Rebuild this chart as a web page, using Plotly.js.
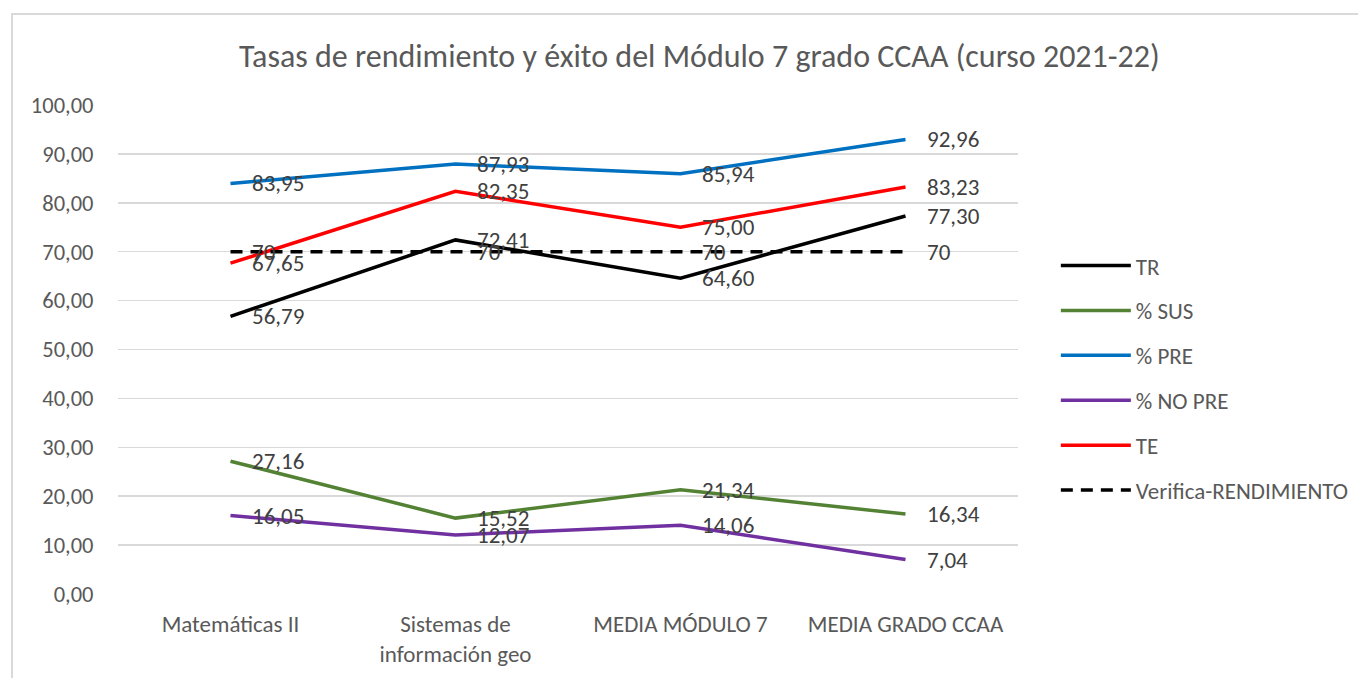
<!DOCTYPE html>
<html>
<head>
<meta charset="utf-8">
<script src="https://cdn.plot.ly/plotly-3.0.1.min.js"></script>
<style>
  html, body { margin: 0; padding: 0; background: #ffffff; }
  #wrap { position: relative; width: 1358px; height: 678px; overflow: hidden; }
  #frame { position: absolute; left: 11px; top: 13px; width: 1400px; height: 700px;
           border-left: 2px solid #d9d9d9; border-top: 2px solid #d9d9d9; pointer-events: none; }
  #chart { position: absolute; left: 0; top: 0; width: 1358px; height: 678px; }
</style>
</head>
<body>
<div id="wrap">
  <div id="chart"></div>
  <div id="frame"></div>
</div>
<script>
const categories = ["Matemáticas II", "Sistemas de<br>información geo", "MEDIA MÓDULO 7", "MEDIA GRADO CCAA"];
const trValues      = [56.79, 72.41, 64.60, 77.30];
const susValues     = [27.16, 15.52, 21.34, 16.34];
const preValues     = [83.95, 87.93, 85.94, 92.96];
const noPreValues   = [16.05, 12.07, 14.06, 7.04];
const teValues      = [67.65, 82.35, 75.00, 83.23];
const verificaValues = [70, 70, 70, 70];
const yTicks = [0, 10, 20, 30, 40, 50, 60, 70, 80, 90, 100];

const FONT = "Carlito, Calibri, Lato, 'Open Sans', sans-serif";

const series = [
  { name: "TR", y: trValues, color: "#000000", dash: "solid", fmt: v => v.toFixed(2).replace(".", ",") },
  { name: "% SUS", y: susValues, color: "#548235", dash: "solid", fmt: v => v.toFixed(2).replace(".", ",") },
  { name: "% PRE", y: preValues, color: "#0070C0", dash: "solid", fmt: v => v.toFixed(2).replace(".", ",") },
  { name: "% NO PRE", y: noPreValues, color: "#7030A0", dash: "solid", fmt: v => v.toFixed(2).replace(".", ",") },
  { name: "TE", y: teValues, color: "#FF0000", dash: "solid", fmt: v => v.toFixed(2).replace(".", ",") },
  { name: "Verifica-RENDIMIENTO", y: verificaValues, color: "#000000", dash: "12px,8px", fmt: v => String(v) }
];

const traces = series.map((s, i) => ({
  type: "scatter",
  mode: "lines",
  name: s.name,
  x: categories,
  y: s.y,
  legendgroup: "g" + i,
  line: { color: s.color, width: 3.5, dash: s.dash },
  hoverinfo: "skip"
}));

const annotations = [];
series.forEach(s => {
  s.y.forEach((v, j) => {
    annotations.push({
      x: categories[j], y: v, xref: "x", yref: "y",
      text: s.fmt(v), showarrow: false,
      xanchor: "left", yanchor: "middle", xshift: 19,
      font: { family: FONT, size: 23, color: "#404040" }
    });
  });
});

const layout = {
  width: 1358, height: 678,
  margin: { l: 118, r: 340, t: 105, b: 84 },
  paper_bgcolor: "#ffffff", plot_bgcolor: "#ffffff",
  separators: ",.",
  title: {
    text: "Tasas de rendimiento y éxito del Módulo 7 grado CCAA (curso 2021-22)",
    font: { family: FONT, size: 32, color: "#595959" },
    xref: "container", x: 0.515, xanchor: "center",
    yref: "container", y: 0.918, yanchor: "middle"
  },
  xaxis: {
    type: "category",
    range: [-0.5, 3.5],
    showgrid: false, zeroline: false, showline: false,
    ticks: "outside", ticklen: 9, tickcolor: "rgba(0,0,0,0)",
    tickfont: { family: FONT, size: 23, color: "#595959" },
    fixedrange: true
  },
  yaxis: {
    range: [0, 100],
    tickvals: yTicks,
    tickformat: ".2f",
    showgrid: true, gridcolor: "#d9d9d9", gridwidth: 1.5,
    zeroline: false, showline: false,
    ticks: "outside", ticklen: 19, tickcolor: "rgba(0,0,0,0)",
    tickfont: { family: FONT, size: 22.5, color: "#595959" },
    fixedrange: true
  },
  showlegend: true,
  legend: {
    xref: "container", x: 0.7775, xanchor: "left",
    yref: "container", y: 0.640, yanchor: "top",
    itemwidth: 70,
    font: { family: FONT, size: 23, color: "#595959" },
    tracegroupgap: 12,
    bgcolor: "rgba(0,0,0,0)"
  },
  annotations: annotations
};

Plotly.newPlot("chart", traces, layout, { displayModeBar: false, staticPlot: true });
</script>
</body>
</html>
